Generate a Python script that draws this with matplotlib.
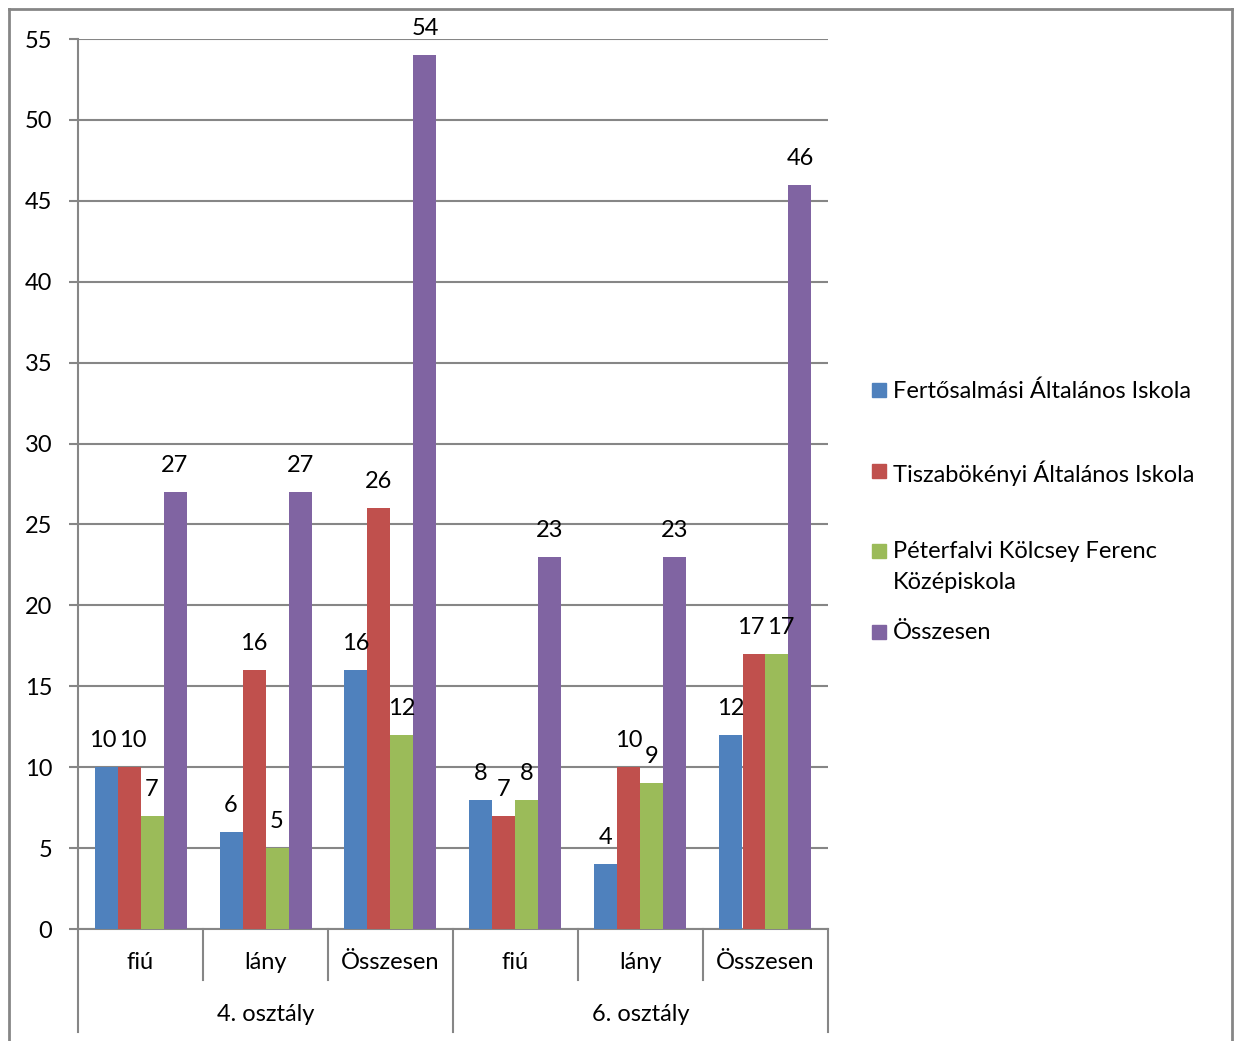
import matplotlib
matplotlib.use("Agg")
import matplotlib.pyplot as plt
from matplotlib.lines import Line2D
from matplotlib.patches import Rectangle
import numpy as np

plt.rcParams['font.family'] = ['Lato', 'DejaVu Sans']

# tanulók száma iskolánként
groups = ["4. osztály", "6. osztály"]
subcats = ["fiú", "lány", "Összesen"]
series_names = ["Fertősalmási Általános Iskola",
                "Tiszabökényi Általános Iskola",
                "Péterfalvi Kölcsey Ferenc\nKözépiskola",
                "Összesen"]
fertosalmas = [10, 6, 16, 8, 4, 12]
tiszabokeny = [10, 16, 26, 7, 10, 17]
peterfalva = [7, 5, 12, 8, 9, 17]
osszesen = [27, 27, 54, 23, 23, 46]
colors = ["#4F81BD", "#C0504D", "#9BBB59", "#8064A2"]

GRAY = "#868686"
FS = 17

fig = plt.figure(figsize=(12.35, 10.41), dpi=100)
ax = fig.add_axes([78 / 1235, 1 - 929 / 1041, 750 / 1235, 890 / 1041])

x = np.arange(6)
w = 0.184
all_series = [fertosalmas, tiszabokeny, peterfalva, osszesen]
for i, vals in enumerate(all_series):
    bars = ax.bar(x + (i - 1.5) * w, vals, w, color=colors[i], zorder=3)
    for j, (b, v) in enumerate(zip(bars, vals)):
        # két egyforma, szomszédos felirat ne csússzon egymásba
        dx = 0
        if i > 0 and all_series[i - 1][j] == v:
            dx = 2.5
        elif i < 3 and all_series[i + 1][j] == v:
            dx = -2.5
        ax.annotate(str(v), (b.get_x() + b.get_width() / 2, v),
                    xytext=(dx, 19), textcoords="offset points",
                    ha="center", va="center", fontsize=FS, zorder=4)

ax.set_xlim(-0.5, 5.5)
ax.set_ylim(0, 55)
ax.set_yticks(range(0, 56, 5))
ax.yaxis.grid(True, color=GRAY, linewidth=1.5, zorder=0)
ax.tick_params(axis="y", length=6.5, width=1.5, color=GRAY, pad=12, labelsize=FS)
ax.set_xticks([])
for s in ["top", "right"]:
    ax.spines[s].set_visible(False)
for s in ["left", "bottom"]:
    ax.spines[s].set_color(GRAY)
    ax.spines[s].set_linewidth(1.5)

# kétszintű kategóriatengely
tr = ax.get_xaxis_transform()
for k in range(7):
    xb = k - 0.5
    low = -0.1157 if k % 3 == 0 else -0.0573
    ax.add_line(Line2D([xb, xb], [0, low], transform=tr, color=GRAY,
                       linewidth=1.5, clip_on=False))
for k in range(6):
    ax.text(k, -0.038, subcats[k % 3], transform=tr, ha="center",
            va="center", fontsize=FS)
for g, name in enumerate(groups):
    ax.text(g * 3 + 1, -0.0966, name, transform=tr, ha="center",
            va="center", fontsize=FS)

# jelmagyarázat
leg_y = [390, 471, 551, 632]
for i, name in enumerate(series_names):
    yc = 1 - leg_y[i] / 1041
    fig.patches.append(Rectangle((872 / 1235, yc - 7 / 1041), 14 / 1235, 14 / 1041,
                                 transform=fig.transFigure, color=colors[i]))
    fig.text(893 / 1235, yc + 10 / 1041, name, ha="left", va="top",
             fontsize=FS, linespacing=1.6)

# keret
bx0, bx1, by = 8.5 / 1235, 1231.5 / 1235, 1 - 9 / 1041
for xs, ys in [([bx0, bx0], [0, by]), ([bx0, bx1], [by, by]), ([bx1, bx1], [by, 0])]:
    fig.lines.append(Line2D(xs, ys, transform=fig.transFigure, color=GRAY, linewidth=2))

fig.savefig("out.png", dpi=100)
